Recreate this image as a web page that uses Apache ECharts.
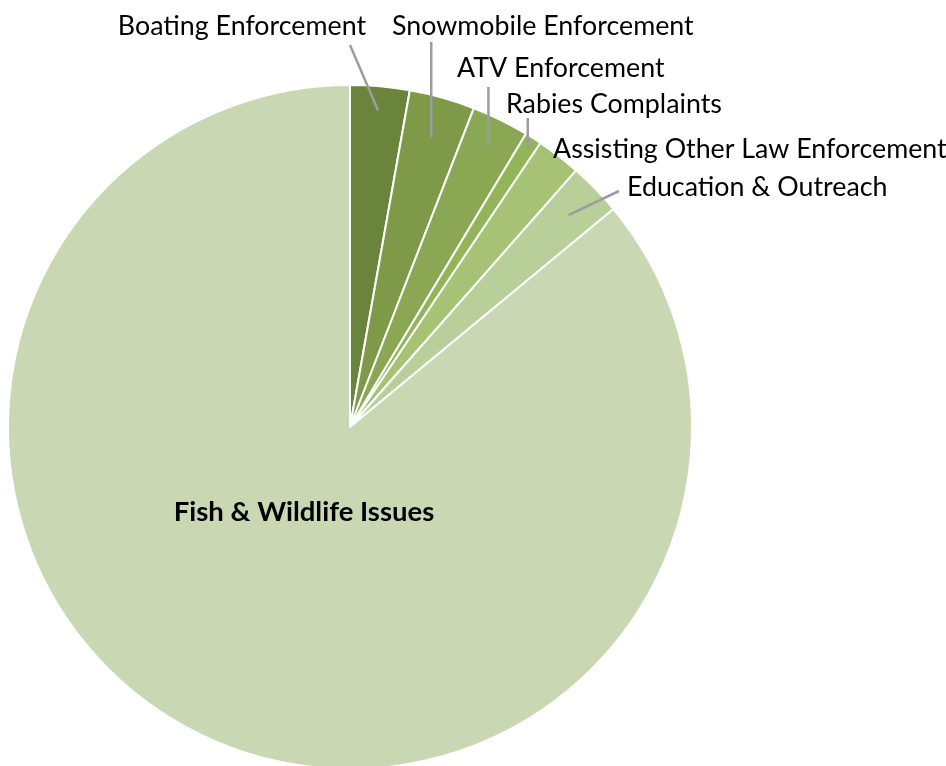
<!DOCTYPE html>
<html>
<head>
<meta charset="utf-8">
<script src="https://cdn.jsdelivr.net/npm/echarts@6/dist/echarts.min.js"></script>
<style>
  html, body { margin: 0; padding: 0; background: #ffffff; }
  #chart { width: 946px; height: 766px; }
</style>
</head>
<body>
<div id="chart"></div>
<script>
// Share of warden activity by category (percent)
const categories = [
  'Boating Enforcement',
  'Snowmobile Enforcement',
  'ATV Enforcement',
  'Rabies Complaints',
  'Assisting Other Law Enforcement',
  'Education & Outreach',
  'Fish & Wildlife Issues'
];
const shares = [2.8, 3.1, 2.7, 0.8, 2.1, 2.5, 86.0];
const sliceColors = ['#6b843c', '#7e9a48', '#8aa853', '#93b55a', '#a6c275', '#b8cf9a', '#c9d8b3'];

// Pie geometry
const CX = 350, CY = 427, R = 342;

// Label placement: text anchor, alignment, and where the leader line meets the text
const labelSpots = [
  { x: 366, y: 26,  align: 'right', leadFrom: [350, 45],  leadR: 0.93 },
  { x: 392, y: 26,  align: 'left',  leadTop: 42,          leadR: 0.88 },
  { x: 457, y: 68,  align: 'left',  leadTop: 87,          leadR: 0.92 },
  { x: 506, y: 104, align: 'left',  leadTop: 118,         leadR: 0.97 },
  { x: 553, y: 149, align: 'left' },
  { x: 627, y: 187, align: 'left',  leadFrom: [619, 191], leadR: 0.89 },
  { x: 304, y: 512, align: 'center' }
];

// Mid-angle (clockwise from 12 o'clock, radians) of each slice from the data
const total = shares.reduce((a, b) => a + b, 0);
const midAngles = [];
let acc = 0;
shares.forEach(v => {
  midAngles.push(((acc + v / 2) / total) * Math.PI * 2);
  acc += v;
});
function slicePoint(i, frac) {
  const a = midAngles[i];
  return [CX + R * frac * Math.sin(a), CY - R * frac * Math.cos(a)];
}

const chart = echarts.init(document.getElementById('chart'), null, { renderer: 'canvas' });

// Filled slices
const sliceData = categories.map((name, i) => ({
  name: name,
  value: shares[i],
  itemStyle: { color: sliceColors[i] }
}));

// Same slices, unfilled, carrying the labels and leader lines on top
const labelData = categories.map((name, i) => {
  const item = { name: name, value: shares[i] };
  if (i === categories.length - 1) {
    item.label = { fontWeight: 'bold', fontSize: 27.5 };
    item.labelLine = { show: false };
  } else if (!labelSpots[i].leadR) {
    item.labelLine = { show: false };
  }
  return item;
});

const pieBase = {
  type: 'pie',
  center: [CX, CY],
  radius: [0, R],
  startAngle: 90,
  clockwise: true,
  avoidLabelOverlap: false,
  minShowLabelAngle: 0
};

chart.setOption({
  backgroundColor: '#ffffff',
  animation: false,
  series: [
    Object.assign({}, pieBase, {
      name: 'slices',
      z: 2,
      silent: true,
      itemStyle: { borderColor: '#ffffff', borderWidth: 2 },
      label: { show: false },
      labelLine: { show: false },
      emphasis: { disabled: true },
      data: sliceData
    }),
    Object.assign({}, pieBase, {
      name: 'labels',
      z: 3,
      silent: true,
      itemStyle: { color: 'rgba(0,0,0,0)', borderWidth: 0 },
      emphasis: { disabled: true },
      label: {
        show: true,
        position: 'outside',
        formatter: '{b}',
        fontFamily: 'Lato',
        fontSize: 26.8,
        color: '#000000'
      },
      labelLine: {
        show: true,
        lineStyle: { color: '#9c9da1', width: 2.5 }
      },
      labelLayout: function (params) {
        const i = params.dataIndex;
        const s = labelSpots[i];
        const out = { x: s.x, y: s.y, align: s.align, verticalAlign: 'middle' };
        if (s.leadR) {
          const inner = slicePoint(i, s.leadR);
          const outer = s.leadFrom ? s.leadFrom : [inner[0], s.leadTop];
          out.labelLinePoints = [inner, outer, outer];
        }
        return out;
      },
      data: labelData
    })
  ]
});
</script>
</body>
</html>
